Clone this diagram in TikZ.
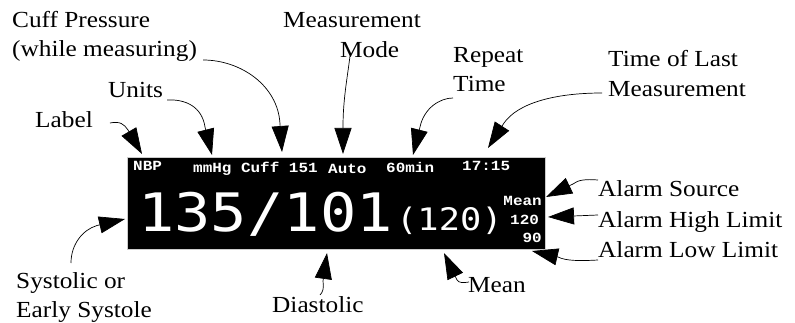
\documentclass[tikz,border=0pt]{standalone}
\usepackage{fontspec}
\setmainfont{Liberation Serif}[FakeStretch=1.1]
\newfontfamily\dispfont{Liberation Mono}[FakeStretch=1.14]
\newfontfamily\bigfont{DejaVu Sans Mono}[FakeStretch=1.14]
\usetikzlibrary{arrows.meta,calc}
\tikzset{
  lbl/.style={anchor=base west, inner sep=0pt, font=\fontsize{23}{27}\selectfont},
  dtxt/.style={anchor=base west, inner sep=0pt, text=white, font=\dispfont\bfseries\fontsize{14}{16}\selectfont},
  bignum/.style={anchor=base west, inner sep=0pt, text=white, font=\bigfont\fontsize{53}{60}\selectfont},
  midnum/.style={anchor=base west, inner sep=0pt, text=white, font=\bigfont\fontsize{31}{35}\selectfont},
  callout/.style={draw=black, line width=0.7pt, -{Triangle[length=26pt,width=17pt]}},
}
\begin{document}
\begin{tikzpicture}[x=1pt,y=-1pt]
\useasboundingbox (0,0) rectangle (795,323);
\fill[white] (0,0) rectangle (795,323);
% display
\node[fill=black, draw=gray!40, line width=0.6pt, minimum width=418pt, minimum height=92pt, inner sep=0pt, anchor=north west] (disp) at (127,157) {};
\node[dtxt] (nbp) at (133,171) {NBP};
\node[dtxt] (cuffval) at (193,173) {mmHg Cuff 151};
\node[dtxt] (auto) at (328,174) {Auto};
\node[dtxt] (rep) at (386,173) {60min};
\node[dtxt] (time) at (462,171) {17:15};
\node[bignum] (sysdia) at (138,232) {135/101};
\node[midnum] (meanval) at (396,231) {(120)};
\node[dtxt, anchor=base east] (src) at (542,206) {Mean};
\node[dtxt] (hi) at (510,225) {120};
\node[dtxt, anchor=base east] (lo) at (542,243) {90};
% labels
\node[lbl] (cuffA) at (12,28) {Cuff Pressure};
\node[lbl] (cuffB) at (12,57) {(while measuring)};
\node[lbl] (measA) at (283,28) {Measurement};
\node[lbl] (measB) at (340,58) {Mode};
\node[lbl] (units) at (108,98) {Units};
\node[lbl] (label) at (35,128) {Label};
\node[lbl] (repA) at (453,63) {Repeat};
\node[lbl] (repB) at (453,92) {Time};
\node[lbl] (tolA) at (608,67) {Time of Last};
\node[lbl] (tolB) at (608,97) {Measurement};
\node[lbl] (asrc) at (598,197) {Alarm Source};
\node[lbl] (ahi) at (598,227) {Alarm High Limit};
\node[lbl] (alo) at (598,257) {Alarm Low Limit};
\node[lbl] (mean) at (468,292) {Mean};
\node[lbl] (sysA) at (16,288) {Systolic or};
\node[lbl] (sysB) at (16,317) {Early Systole};
\node[lbl] (dia) at (272,312) {Diastolic};
% arrow tips
\coordinate (tLabel) at (142,154);
\coordinate (tUnits) at (212,155);
\coordinate (tCuff) at (282,152);
\coordinate (tMode) at (343,154);
\coordinate (tRep) at (413,155);
\coordinate (tTol) at (488,148);
\coordinate (tSrc) at (546,197);
\coordinate (tHigh) at (548,217);
\coordinate (tLow) at (532,251);
\coordinate (tMean) at (444,253);
\coordinate (tSys) at (125,219);
\coordinate (tDia) at (327,253);
% connectors
\draw[callout] ($(label.base east)+(17,-5)$) .. controls (120,121) and (124,124) .. (128,130) -- (tLabel);
\draw[callout] ($(units.base east)+(4,2)$) .. controls (186,99) and (202,107) .. (205,127) -- (tUnits);
\draw[callout] ($(cuffB.base east)+(6,3)$) .. controls (240,60) and (278,85) .. (280,124) -- (tCuff);
\draw[callout] ($(measB.base west)+(10,-2)$) .. controls (347,80) and (343,100) .. (343,127) -- (tMode);
\draw[callout] ($(repB.base west)+(0,6)$) .. controls (440,98) and (424,108) .. (420,127) -- (tRep);
\draw[callout] ($(tolB.base west)+(-6,-4)$) .. controls (555,93) and (518,103) .. (504,123) -- (tTol);
\draw[callout] ($(asrc.base west)+(0,-17)$) .. controls (585,179) and (578,180) .. (573,184) -- (tSrc);
\draw[callout] ($(ahi.base west)+(0,-12)$) -- (tHigh);
\draw[callout] ($(alo.base west)+(0,3)$) .. controls (580,261) and (566,261) .. (558,257) -- (tLow);
\draw[callout] ($(mean.base west)+(1,-10)$) .. controls (463,283) and (459,283) .. (457,280) -- (tMean);
\draw[callout] ($(sysA.base west)+(55,-25)$) .. controls (71,245) and (82,230) .. (97,225.5) -- (tSys);
\draw[callout] ($(dia.base west)+(48,-17)$) .. controls (323,292) and (324,288) .. (323,281) -- (tDia);
\end{tikzpicture}
\end{document}
